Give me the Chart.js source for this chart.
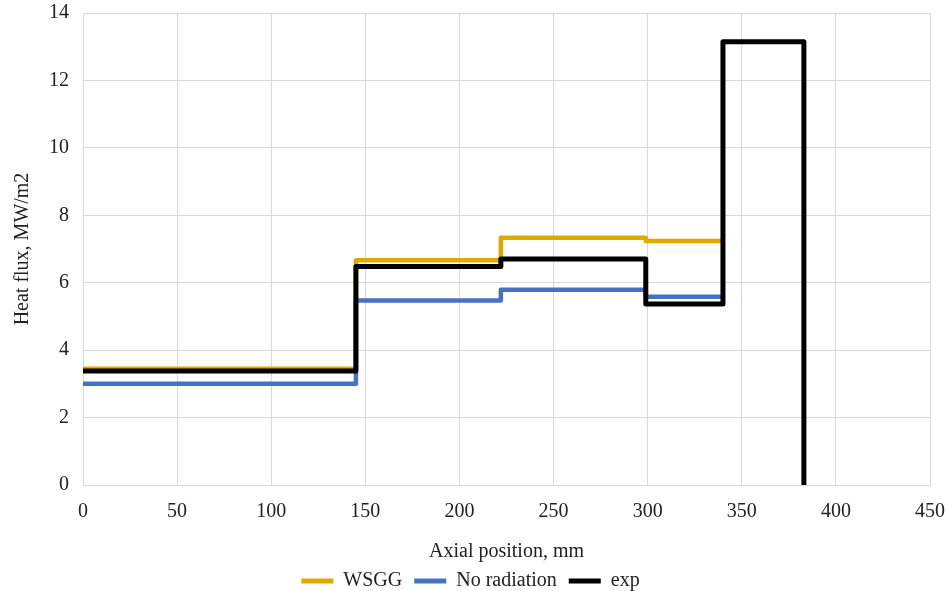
<!DOCTYPE html>
<html>
<head>
<meta charset="utf-8">
<script src="https://cdn.jsdelivr.net/npm/chart.js@4"></script>
<style>
  html, body { margin: 0; padding: 0; background: #fff; }
  #wrap { width: 948px; height: 591px; }
</style>
</head>
<body>
<div id="wrap"><canvas id="fluxChart"></canvas></div>
<script>
// step edges along the axis (mm) and the level of each section (MW/m2)
const sectionEdges = [0, 145, 222, 299, 340];
const expEdges = [0, 145, 222, 299, 340, 383];
const wsgg = [3.45, 6.67, 7.33, 7.24];
const noRadiation = [3.0, 5.47, 5.79, 5.58];
const expValues = [3.38, 6.48, 6.70, 5.37, 13.15, 0];
const xTicks = [0, 50, 100, 150, 200, 250, 300, 350, 400, 450];

// one point per edge; a section keeps its level up to the next edge
function steps(edges, values) {
    const pts = values.map((v, i) => ({ x: edges[i], y: v }));
    if (edges.length > values.length) {
        pts.push({ x: edges[edges.length - 1], y: values[values.length - 1] });
    }
    return pts;
}

const serif = "'Liberation Serif', 'Times New Roman', serif";
const gridColor = '#d9d9d9';
const textColor = '#222222';

const ctx = document.getElementById('fluxChart').getContext('2d');
const fluxChart = new Chart(ctx, {
    type: 'line',
    data: {
        datasets: [
            {
                label: 'WSGG',
                data: steps(sectionEdges, wsgg),
                borderColor: '#e0a800',
                backgroundColor: '#e0a800',
                borderWidth: 4.5,
                order: 2
            },
            {
                label: 'No radiation',
                data: steps(sectionEdges, noRadiation),
                borderColor: '#4472c4',
                backgroundColor: '#4472c4',
                borderWidth: 4.5,
                order: 1
            },
            {
                label: 'exp',
                data: steps(expEdges, expValues),
                borderColor: '#000000',
                backgroundColor: '#000000',
                borderWidth: 5,
                order: 0
            }
        ]
    },
    options: {
        responsive: true,
        maintainAspectRatio: false,
        animation: false,
        datasets: {
            line: {
                stepped: 'before',
                pointRadius: 0,
                pointHoverRadius: 0,
                fill: false,
                borderJoinStyle: 'round',
                borderCapStyle: 'butt'
            }
        },
        layout: { padding: { top: 13, right: 18, left: 11, bottom: -10 } },
        scales: {
            x: {
                type: 'linear',
                min: 0,
                max: 450,
                afterBuildTicks: axis => { axis.ticks = xTicks.map(v => ({ value: v })); },
                afterFit: axis => { axis.paddingLeft = 0; axis.paddingRight = 0; },
                grid: { color: gridColor, drawTicks: false },
                border: { color: gridColor },
                ticks: { color: textColor, padding: 15, font: { family: serif, size: 20 } },
                title: {
                    display: true,
                    text: 'Axial position, mm',
                    color: textColor,
                    padding: { top: 1, bottom: -5 },
                    font: { family: serif, size: 20 }
                }
            },
            y: {
                min: 0,
                max: 14,
                afterFit: axis => { axis.paddingTop = 0; axis.paddingBottom = 0; },
                ticks: { stepSize: 2, color: textColor, padding: 14, font: { family: serif, size: 20 } },
                grid: { color: gridColor, drawTicks: false },
                border: { color: gridColor },
                title: {
                    display: true,
                    text: 'Heat flux, MW/m2',
                    color: textColor,
                    padding: { top: 0, bottom: 0 },
                    font: { family: serif, size: 20 }
                }
            }
        },
        plugins: {
            tooltip: { enabled: false },
            legend: {
                position: 'bottom',
                labels: {
                    boxWidth: 32,
                    boxHeight: 5,
                    padding: 12,
                    color: textColor,
                    font: { family: serif, size: 20 },
                    sort: (a, b) => a.datasetIndex - b.datasetIndex,
                    generateLabels: chart => Chart.defaults.plugins.legend.labels.generateLabels(chart)
                        .map(item => Object.assign(item, { lineWidth: 0 }))
                }
            }
        }
    }
});
</script>
</body>
</html>
